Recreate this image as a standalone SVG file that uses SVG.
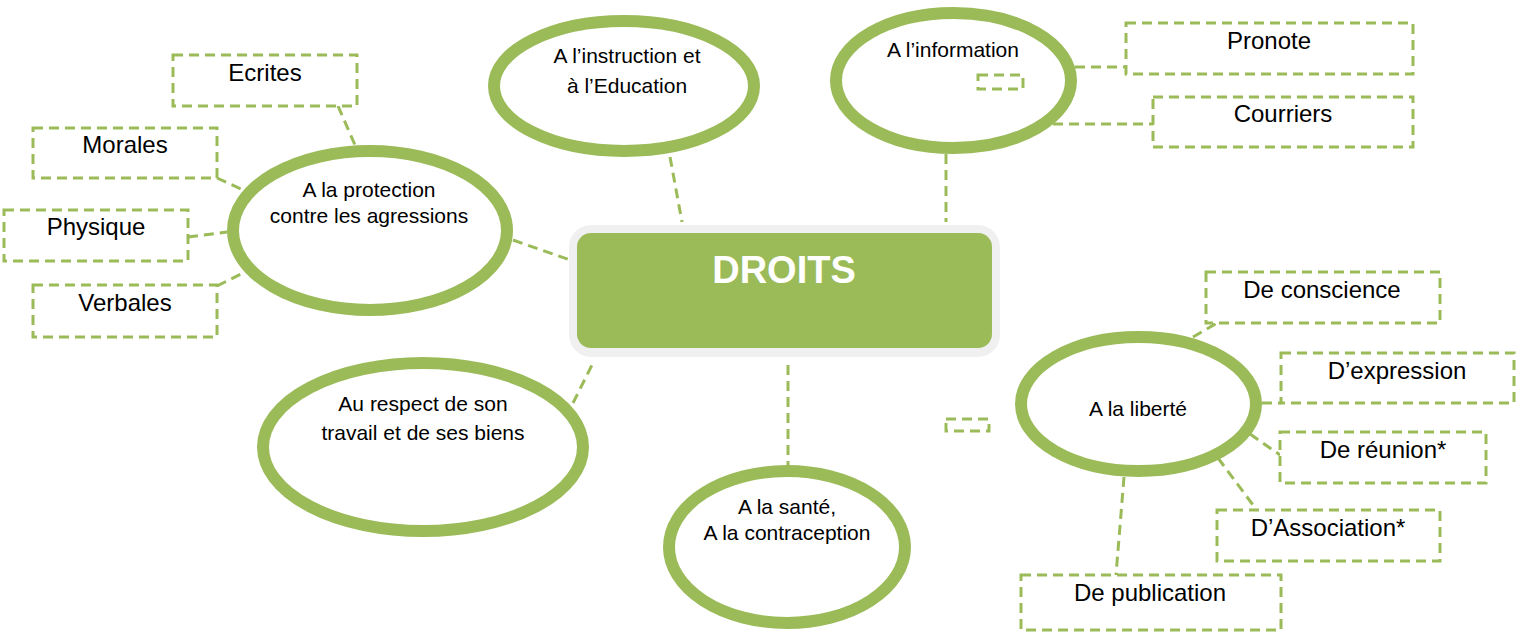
<svg xmlns="http://www.w3.org/2000/svg" width="1525" height="632" viewBox="0 0 1525 632">
<style>
.conn line, .conn polyline { stroke:#9BBB59; stroke-width:3; stroke-dasharray:10 6; fill:none; }
.ell { fill:#ffffff; stroke:#9BBB59; stroke-width:12; }
.box { fill:#ffffff; stroke:#9BBB59; stroke-width:3; stroke-dasharray:10 6; }
.small { fill:none; stroke:#9BBB59; stroke-width:3; stroke-dasharray:10 6; }
text { font-family:"Liberation Sans", Arial, sans-serif; fill:#000000; text-anchor:middle; }
.lbl { font-size:21px; }
.bl { font-size:24px; }
.title { font-size:38px; font-weight:bold; fill:#ffffff; }
</style>
<rect width="1525" height="632" fill="#ffffff"/>
<g id="connectors" class="conn">
  <line x1="338" y1="106" x2="355" y2="145"/>
  <line x1="217" y1="178" x2="243" y2="190"/>
  <line x1="188" y1="237" x2="227" y2="232"/>
  <line x1="217" y1="286" x2="245" y2="272"/>
  <line x1="513" y1="240" x2="570" y2="260"/>
  <line x1="670" y1="157" x2="682" y2="222"/>
  <line x1="1075" y1="67" x2="1126" y2="67"/>
  <line x1="1053" y1="124" x2="1153" y2="124"/>
  <line x1="946" y1="154" x2="946" y2="222"/>
  <line x1="573" y1="403" x2="593" y2="363"/>
  <line x1="788" y1="365" x2="788" y2="465"/>
  <line x1="1193" y1="337" x2="1217" y2="323"/>
  <line x1="1262" y1="403" x2="1281" y2="403"/>
  <line x1="1250" y1="434" x2="1280" y2="455"/>
  <line x1="1218" y1="458" x2="1256" y2="509"/>
  <line x1="1124" y1="477" x2="1116" y2="575"/>
</g>
<g id="droits">
  <rect x="569" y="225" width="431" height="132" rx="22" fill="#F0F0F0"/>
  <rect x="577" y="233" width="415" height="115" rx="14" fill="#9BBB59"/>
  <text class="title" x="784" y="283">DROITS</text>
</g>
<g id="protection">
  <ellipse class="ell" cx="370" cy="230.5" rx="137" ry="79.5"/>
  <text class="lbl" x="369" y="197" font-size="20.5">A la protection</text>
  <text class="lbl" x="369" y="223" font-size="20.5">contre les agressions</text>
</g>
<g id="ecrites">
  <rect class="box" x="173" y="55" width="184" height="51"/>
  <text class="bl" x="265" y="81">Ecrites</text>
</g>
<g id="morales">
  <rect class="box" x="33" y="128" width="184" height="50"/>
  <text class="bl" x="125" y="153">Morales</text>
</g>
<g id="physique">
  <rect class="box" x="4" y="210" width="184" height="51"/>
  <text class="bl" x="96" y="235">Physique</text>
</g>
<g id="verbales">
  <rect class="box" x="33" y="285" width="184" height="52"/>
  <text class="bl" x="125" y="311">Verbales</text>
</g>
<g id="instruction">
  <ellipse class="ell" cx="624" cy="86" rx="130" ry="65"/>
  <text class="lbl" x="627" y="63" font-size="22">A l’instruction et</text>
  <text class="lbl" x="627" y="93" font-size="22">à l’Education</text>
</g>
<g id="information">
  <ellipse class="ell" cx="953.5" cy="80.5" rx="117.5" ry="67.5"/>
  <text class="lbl" x="953" y="57" font-size="22.5">A l’information</text>
  <rect class="small" x="978" y="75" width="45" height="14"/>
</g>
<g id="pronote">
  <rect class="box" x="1126" y="23" width="287" height="51"/>
  <text class="bl" x="1269" y="49">Pronote</text>
</g>
<g id="courriers">
  <rect class="box" x="1153" y="97" width="260" height="50"/>
  <text class="bl" x="1283" y="122">Courriers</text>
</g>
<g id="respect">
  <ellipse class="ell" cx="423" cy="447" rx="160" ry="84"/>
  <text class="lbl" x="423" y="411" font-size="21.5">Au respect de son</text>
  <text class="lbl" x="423" y="440" font-size="21.5">travail et de ses biens</text>
</g>
<g id="sante">
  <ellipse class="ell" cx="787" cy="547" rx="118" ry="76"/>
  <text class="lbl" x="787" y="514" font-size="19.5">A la santé,</text>
  <text class="lbl" x="787" y="540" font-size="19.5">A la contraception</text>
</g>
<g id="liberte">
  <ellipse class="ell" cx="1138.5" cy="404" rx="117.5" ry="67"/>
  <text class="lbl" x="1138" y="416" font-size="22">A la liberté</text>
</g>
<g id="small-liberte">
  <rect class="small" x="946" y="419" width="43" height="12"/>
</g>
<g id="conscience">
  <rect class="box" x="1206" y="272" width="234" height="51"/>
  <text class="bl" x="1322" y="298">De conscience</text>
</g>
<g id="expression">
  <rect class="box" x="1281" y="353" width="233" height="50"/>
  <text class="bl" x="1397" y="379">D’expression</text>
</g>
<g id="reunion">
  <rect class="box" x="1280" y="432" width="206" height="51"/>
  <text class="bl" x="1383" y="458">De réunion*</text>
</g>
<g id="association">
  <rect class="box" x="1217" y="510" width="223" height="51"/>
  <text class="bl" x="1328" y="536">D’Association*</text>
</g>
<g id="publication">
  <rect class="box" x="1021" y="575" width="260" height="55"/>
  <text class="bl" x="1150" y="601">De publication</text>
</g>
</svg>
